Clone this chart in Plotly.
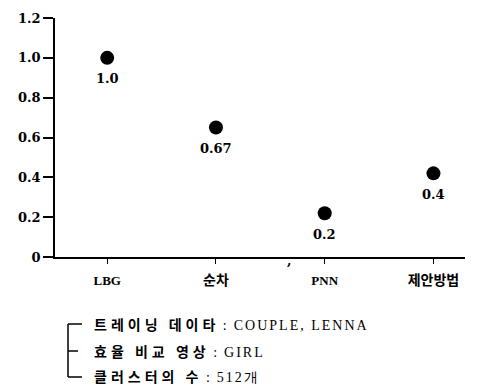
import plotly.graph_objects as go

categories = ["LBG", "순차", "PNN", "제안방법"]
values = [1.0, 0.65, 0.22, 0.42]
value_labels = ["1.0", "0.67", "0.2", "0.4"]
y_tickvals = [0, 0.2, 0.4, 0.6, 0.8, 1.0, 1.2]
y_ticktext = ["0", "0.2", "0.4", "0.6", "0.8", "1.0", "1.2"]
note_keys = ["트레이닝 데이타", "효율 비교 영상", "클러스터의 수"]
note_vals = ["COUPLE, LENNA", "GIRL", "512개"]

SERIF = "Liberation Serif, Noto Sans CJK KR, serif"
NUMF = "DejaVu Serif, serif"
KOR = "Noto Sans CJK KR, sans-serif"

# the page body has an 8px default margin; work in window pixels
OFF = 8
PL, PR, PT, PB = 55, 465, 18, 257  # plot area in window pixels

def py(pix):
    return (PB - pix) / (PB - PT)

def px(pix):
    return (pix - PL) / (PR - PL)

fig = go.Figure()
fig.add_trace(go.Scatter(
    x=categories, y=values, mode="markers",
    marker=dict(size=14, color="black"),
    showlegend=False, hoverinfo="skip",
))

for c, v, t in zip(categories, values, value_labels):
    fig.add_annotation(x=c, y=v, text=t, showarrow=False, yshift=-21,
                       font=dict(family=NUMF, size=13, color="black", weight="bold"))

# stray comma mark from original
fig.add_annotation(xref="paper", yref="paper", x=px(289), y=py(270), text=",", showarrow=False,
                   font=dict(family=NUMF, size=13, color="black", weight="bold"))

row_y = [324, 351, 376]
for ry, k, v in zip(row_y, note_keys, note_vals):
    txt = (f'<span style="font-family:{KOR};font-weight:bold;letter-spacing:4px">{k}</span>'
           f'&nbsp;:&nbsp;&nbsp;'
           f'<span style="font-family:Liberation Serif;letter-spacing:2px">{v}</span>')
    fig.add_annotation(xref="paper", yref="paper", x=px(92), y=py(ry), xanchor="left", yanchor="middle",
                       text=txt, showarrow=False,
                       font=dict(family=SERIF, size=14, color="black"))

line = dict(color="black", width=1.5)
fig.add_shape(type="line", xref="paper", yref="paper", x0=px(68), x1=px(68), y0=py(324), y1=py(377), line=line)
fig.add_shape(type="line", xref="paper", yref="paper", x0=px(68), x1=px(82), y0=py(324), y1=py(324), line=line)
fig.add_shape(type="line", xref="paper", yref="paper", x0=px(68), x1=px(78), y0=py(351), y1=py(351), line=line)
fig.add_shape(type="line", xref="paper", yref="paper", x0=px(68), x1=px(82), y0=py(377), y1=py(377), line=line)

kor_tick = lambda s: s if s.isascii() else f'<span style="font-size:14px;font-family:{KOR};font-weight:bold">{s}</span>'

fig.update_layout(
    width=477 - OFF, height=386 - OFF,
    margin=dict(l=PL - OFF, r=477 - PR, t=PT - OFF, b=386 - PB, autoexpand=False),
    plot_bgcolor="white", paper_bgcolor="white",
    font=dict(family=SERIF, color="black"),
    xaxis=dict(range=[-0.48, 3.29], showgrid=False, zeroline=False,
               showline=True, linecolor="black", linewidth=1.5,
               ticks="outside", ticklen=5, tickcolor="black", tickwidth=1,
               tickmode="array", tickvals=categories, ticktext=[kor_tick(c) for c in categories],
               ticklabelstandoff=6,
               tickfont=dict(family=SERIF, size=13, color="black", weight="bold"),
               categoryorder="array", categoryarray=categories),
    yaxis=dict(range=[0, 1.2], showgrid=False, zeroline=False,
               showline=True, linecolor="black", linewidth=1.5,
               ticks="outside", ticklen=10, tickcolor="black", tickwidth=1.5,
               tickvals=y_tickvals, ticktext=y_ticktext,
               tickfont=dict(family=NUMF, size=13, color="black", weight="bold")),
)

fig.write_html("out.html")
